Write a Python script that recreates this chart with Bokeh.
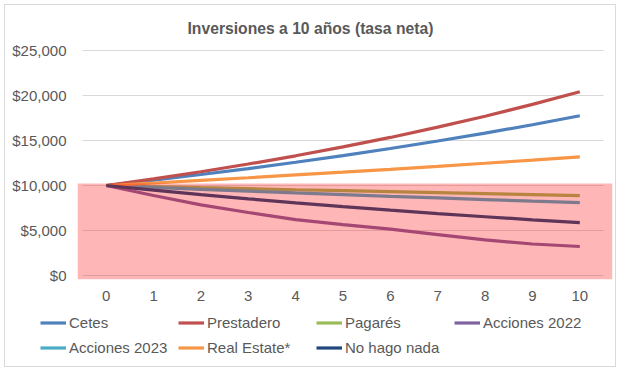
from bokeh.plotting import figure
from bokeh.layouts import column
from bokeh.models import (Legend, LegendItem, NumeralTickFormatter, FixedTicker,
                          BoxAnnotation, Range1d)
from bokeh.embed import file_html
from bokeh.resources import INLINE

# ---- data ----
years = [0, 1, 2, 3, 4, 5, 6, 7, 8, 9, 10]
cetes = [10000, 10600, 11220, 11880, 12580, 13320, 14110, 14940, 15820, 16750, 17750]
prestadero = [10000, 10740, 11530, 12390, 13300, 14290, 15340, 16480, 17700, 19010, 20420]
pagares = [10000, 9880, 9760, 9650, 9530, 9420, 9310, 9200, 9090, 8980, 8870]
acciones_2022 = [10000, 8890, 7850, 7000, 6200, 5650, 5150, 4550, 3950, 3500, 3220]
acciones_2023 = [10000, 9790, 9580, 9380, 9180, 8990, 8800, 8620, 8440, 8260, 8090]
real_estate = [10000, 10280, 10570, 10860, 11170, 11480, 11800, 12130, 12470, 12820, 13180]
no_hago_nada = [10000, 9480, 8990, 8520, 8080, 7660, 7260, 6880, 6530, 6190, 5870]

series_names = ["Cetes", "Prestadero", "Pagarés", "Acciones 2022",
                "Acciones 2023", "Real Estate*", "No hago nada"]
series_values = [cetes, prestadero, pagares, acciones_2022,
                 acciones_2023, real_estate, no_hago_nada]
series_colors = ["#4F81BD", "#C0504D", "#9BBB59", "#8064A2",
                 "#4BACC6", "#F79646", "#1F497D"]

y_ticks = [0, 5000, 10000, 15000, 20000, 25000]
risk_zone_top = 10220

FONT = "Liberation Sans"
GREY = "#595959"

p = figure(width=610, height=302,
           x_range=Range1d(-0.606, 10.69), y_range=Range1d(-444, 25222),
           output_backend="svg", toolbar_location=None,
           min_border_left=72, min_border_right=3,
           min_border_top=43, min_border_bottom=28)
p.frame_align = False

p.title.text = "Inversiones a 10 años (tasa neta)"
p.title.text_font = FONT
p.title.text_font_style = "bold"
p.title.text_font_size = "15.7px"
p.title.text_color = GREY
p.title.align = "left"
p.title.offset = 110
p.title.standoff = 24

p.xgrid.visible = False
p.ygrid.visible = False
p.outline_line_color = None

# horizontal gridlines
p.segment(x0=-0.5, x1=10.5, y0=y_ticks, y1=y_ticks, line_color="#D9D9D9", line_width=1)

for name, vals, col in zip(series_names, series_values, series_colors):
    p.line(years, vals, line_color=col, line_width=3.2)

p.add_layout(BoxAnnotation(top=risk_zone_top, fill_color="red", fill_alpha=0.286,
                           line_color=None))

for ax in (p.xaxis[0], p.yaxis[0]):
    ax.axis_line_color = None
    ax.major_tick_line_color = None
    ax.minor_tick_line_color = None
    ax.major_tick_out = 0
    ax.major_tick_in = 0
    ax.major_label_text_font = FONT
    ax.major_label_text_font_size = "15px"
    ax.major_label_text_color = GREY

p.xaxis.ticker = FixedTicker(ticks=years)
p.xaxis.major_label_standoff = 11
p.yaxis.ticker = FixedTicker(ticks=y_ticks)
p.yaxis.formatter = NumeralTickFormatter(format="$0,0")
p.yaxis.major_label_standoff = 11

# ---- legend strip (proxy lines lie outside its visible range) ----
pl = figure(width=610, height=59, output_backend="svg", toolbar_location=None,
            min_border=0, x_range=Range1d(0, 1), y_range=Range1d(0, 1))
pl.frame_align = False
pl.xaxis.visible = False
pl.yaxis.visible = False
pl.xgrid.visible = False
pl.ygrid.visible = False
pl.outline_line_color = None

items = []
for name, vals, col in zip(series_names, series_values, series_colors):
    r = pl.line(years, vals, line_color=col, line_width=3.2)
    items.append(LegendItem(label=name, renderers=[r]))

legend = Legend(items=items, orientation="horizontal", ncols=4, location=(35, 10),
                label_text_font=FONT, label_text_font_size="15px",
                label_text_color=GREY, glyph_width=26, glyph_height=17,
                label_height=17, label_width=101, label_standoff=3,
                spacing=8, padding=0, margin=0,
                border_line_color=None, background_fill_alpha=0)
pl.add_layout(legend, "center")

layout = column(p, pl, spacing=0,
                styles={"border": "1px solid #D9D9D9", "margin-left": "4px",
                        "margin-top": "4px"})

open("out.html", "w").write(file_html(layout, INLINE))
